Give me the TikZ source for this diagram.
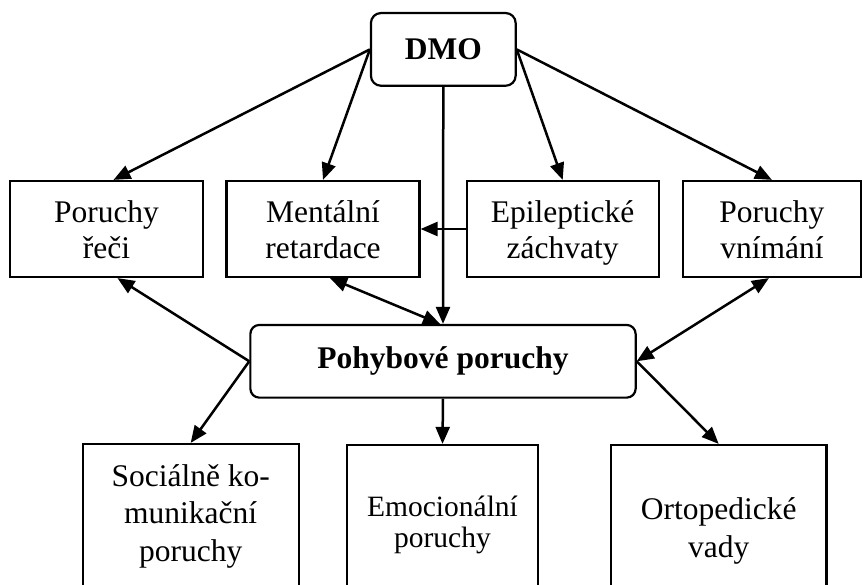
\documentclass[tikz,border=0pt]{standalone}
\usepackage{fontspec}
\setmainfont{Liberation Serif}
\usepackage{tikz}
\usetikzlibrary{arrows.meta, calc}

\newcommand{\dn}{\vphantom{y}}
\newcommand{\up}{\rule{0pt}{29.4pt}}

\begin{document}
\begin{tikzpicture}[
  x=1pt, y=-1pt,
  rootnode/.style = {draw, rounded corners=10pt, line width=2.2pt, inner sep=0pt,
                     minimum width=144.7pt, minimum height=72.7pt,
                     font=\fontsize{31.5}{36.5}\selectfont\bfseries},
  mainnode/.style = {draw, rounded corners=9pt, line width=2.2pt, inner sep=0pt,
                     minimum width=385.3pt, minimum height=72.7pt,
                     font=\fontsize{31.5}{36.5}\selectfont\bfseries},
  boxnode/.style  = {draw, line width=2.2pt, inner sep=0pt, align=center,
                     minimum width=193pt, minimum height=96pt,
                     font=\fontsize{31.5}{36.5}\selectfont},
  leafnode/.style = {draw, line width=2.2pt, inner sep=0pt, align=center,
                     font=\fontsize{31.5}{37.5}\selectfont},
  arr/.style      = {-{Triangle[length=17pt,width=14pt]}, line width=2.5pt},
  darr/.style     = {{Triangle[length=17pt,width=14pt]}-{Triangle[length=17pt,width=14pt]},
                     line width=2.5pt},
]
\useasboundingbox (0,0) rectangle (863,585);
\clip (0,0) rectangle (863,585);

%% ── Top ───────────────────────────────────────────────────────────
\node[rootnode] (dmo) at (443.3, 49.4) {DMO};

%% ── Middle row ────────────────────────────────────────────────────
\node[boxnode] (reci)    at (106.5, 229) {\up Poruchy\\řeči\dn};
\node[boxnode] (mental)  at (323, 229)   {\up Mentální\\retardace\dn};
\node[boxnode, minimum width=192pt] (epil) at (562.7, 229) {\up Epileptické\\záchvaty\dn};
\node[boxnode, minimum width=178.3pt] (vnimani) at (771.9, 229) {\up Poruchy\\vnímání\dn};

\node[mainnode] (pohyb) at (443, 361.3) {Pohybové poruchy};

%% ── Bottom row ────────────────────────────────────────────────────
\node[leafnode, minimum width=216.2pt, minimum height=144pt]
  (soc)  at (190.7, 516) {Sociálně ko-\\munikační\\poruchy};
\node[leafnode, minimum width=191.5pt, minimum height=160pt,
      font=\fontsize{29.5}{31.5}\selectfont]
  (emo)  at (442.5, 525) {Emocionální\\poruchy};
\node[leafnode, minimum width=215.7pt, minimum height=172pt]
  (orto) at (718.7, 531) {Ortopedické\\vady};

%% ── DMO arrows ────────────────────────────────────────────────────
\draw[arr] (dmo.west) -- ($(reci.north)+(7,0)$);
\draw[arr] (dmo.west) -- (mental.north);
\draw[arr] (dmo.east) -- (epil.north);
\draw[arr] (dmo.east) -- (vnimani.north);
\draw[arr] (dmo.south) -- (pohyb.north);
\draw[arr] (epil.west) -- (mental.east);

%% ── Pohybové poruchy arrows ───────────────────────────────────────
\draw[arr]  (pohyb.west) -- ($(reci.south)+(11,0)$);
\draw[darr] ($(mental.south)+(7,0)$) -- ($(pohyb.north)+(-3,0)$);
\draw[darr] ($(vnimani.south)+(-3,0)$) -- (pohyb.east);
\draw[arr]  (pohyb.west) -- (soc.north);
\draw[arr]  (pohyb.south) -- (emo.north);
\draw[arr]  (pohyb.east) -- (orto.north);

\end{tikzpicture}
\end{document}
